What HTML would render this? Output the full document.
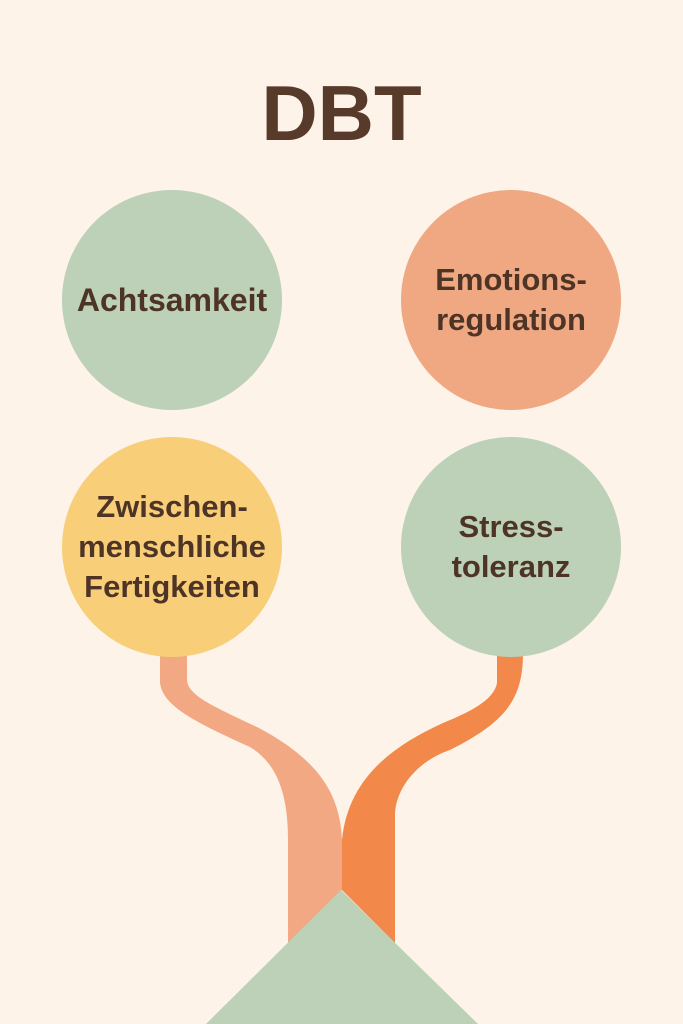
<!DOCTYPE html>
<html><head><meta charset="utf-8"><style>
html,body{margin:0;padding:0}
body{width:683px;height:1024px;background:#fdf3e8;position:relative;overflow:hidden;font-family:"Liberation Sans",sans-serif;color:#4e3426}
.t{position:absolute;left:0;width:683px;text-align:center;top:68px;font-size:78px;font-weight:bold;color:#583a2a;line-height:90px}
.c{position:absolute;width:220px;height:220px;border-radius:50%;display:flex;align-items:center;justify-content:center;text-align:center;font-weight:bold;font-size:31px;line-height:40px}
</style></head><body>
<svg width="683" height="1024" style="position:absolute;left:0;top:0">
<path d="M160,650 L160,683 C163,705 190,720 250,747 C280,765 288,800 288,840 L288,943 L342,890 L342,840 C340,795 320,760 257,727 C210,705 188,695 187,680 L187,650 Z" fill="#f2a883"/>
<path d="M497,650 L497,683 C494,700 470,712 443,723 C390,747 348,780 342,840 L342,890 L395,943 L395,813 C397,785 420,760 450,750 C505,722 523,700 523,653 L523,650 Z" fill="#f2884a"/>
<polygon points="341,890 478,1024 206,1024" fill="#bcd1b8"/>
</svg>
<div class="t">DBT</div>
<div class="c" style="left:62px;top:190px;background:#bcd1b8;font-size:32px">Achtsamkeit</div>
<div class="c" style="left:401px;top:190px;background:#f0a882">Emotions-<br>regulation</div>
<div class="c" style="left:62px;top:437px;background:#f8cf78">Zwischen-<br>menschliche<br>Fertigkeiten</div>
<div class="c" style="left:401px;top:437px;background:#bcd1b8">Stress-<br>toleranz</div>
</body></html>
